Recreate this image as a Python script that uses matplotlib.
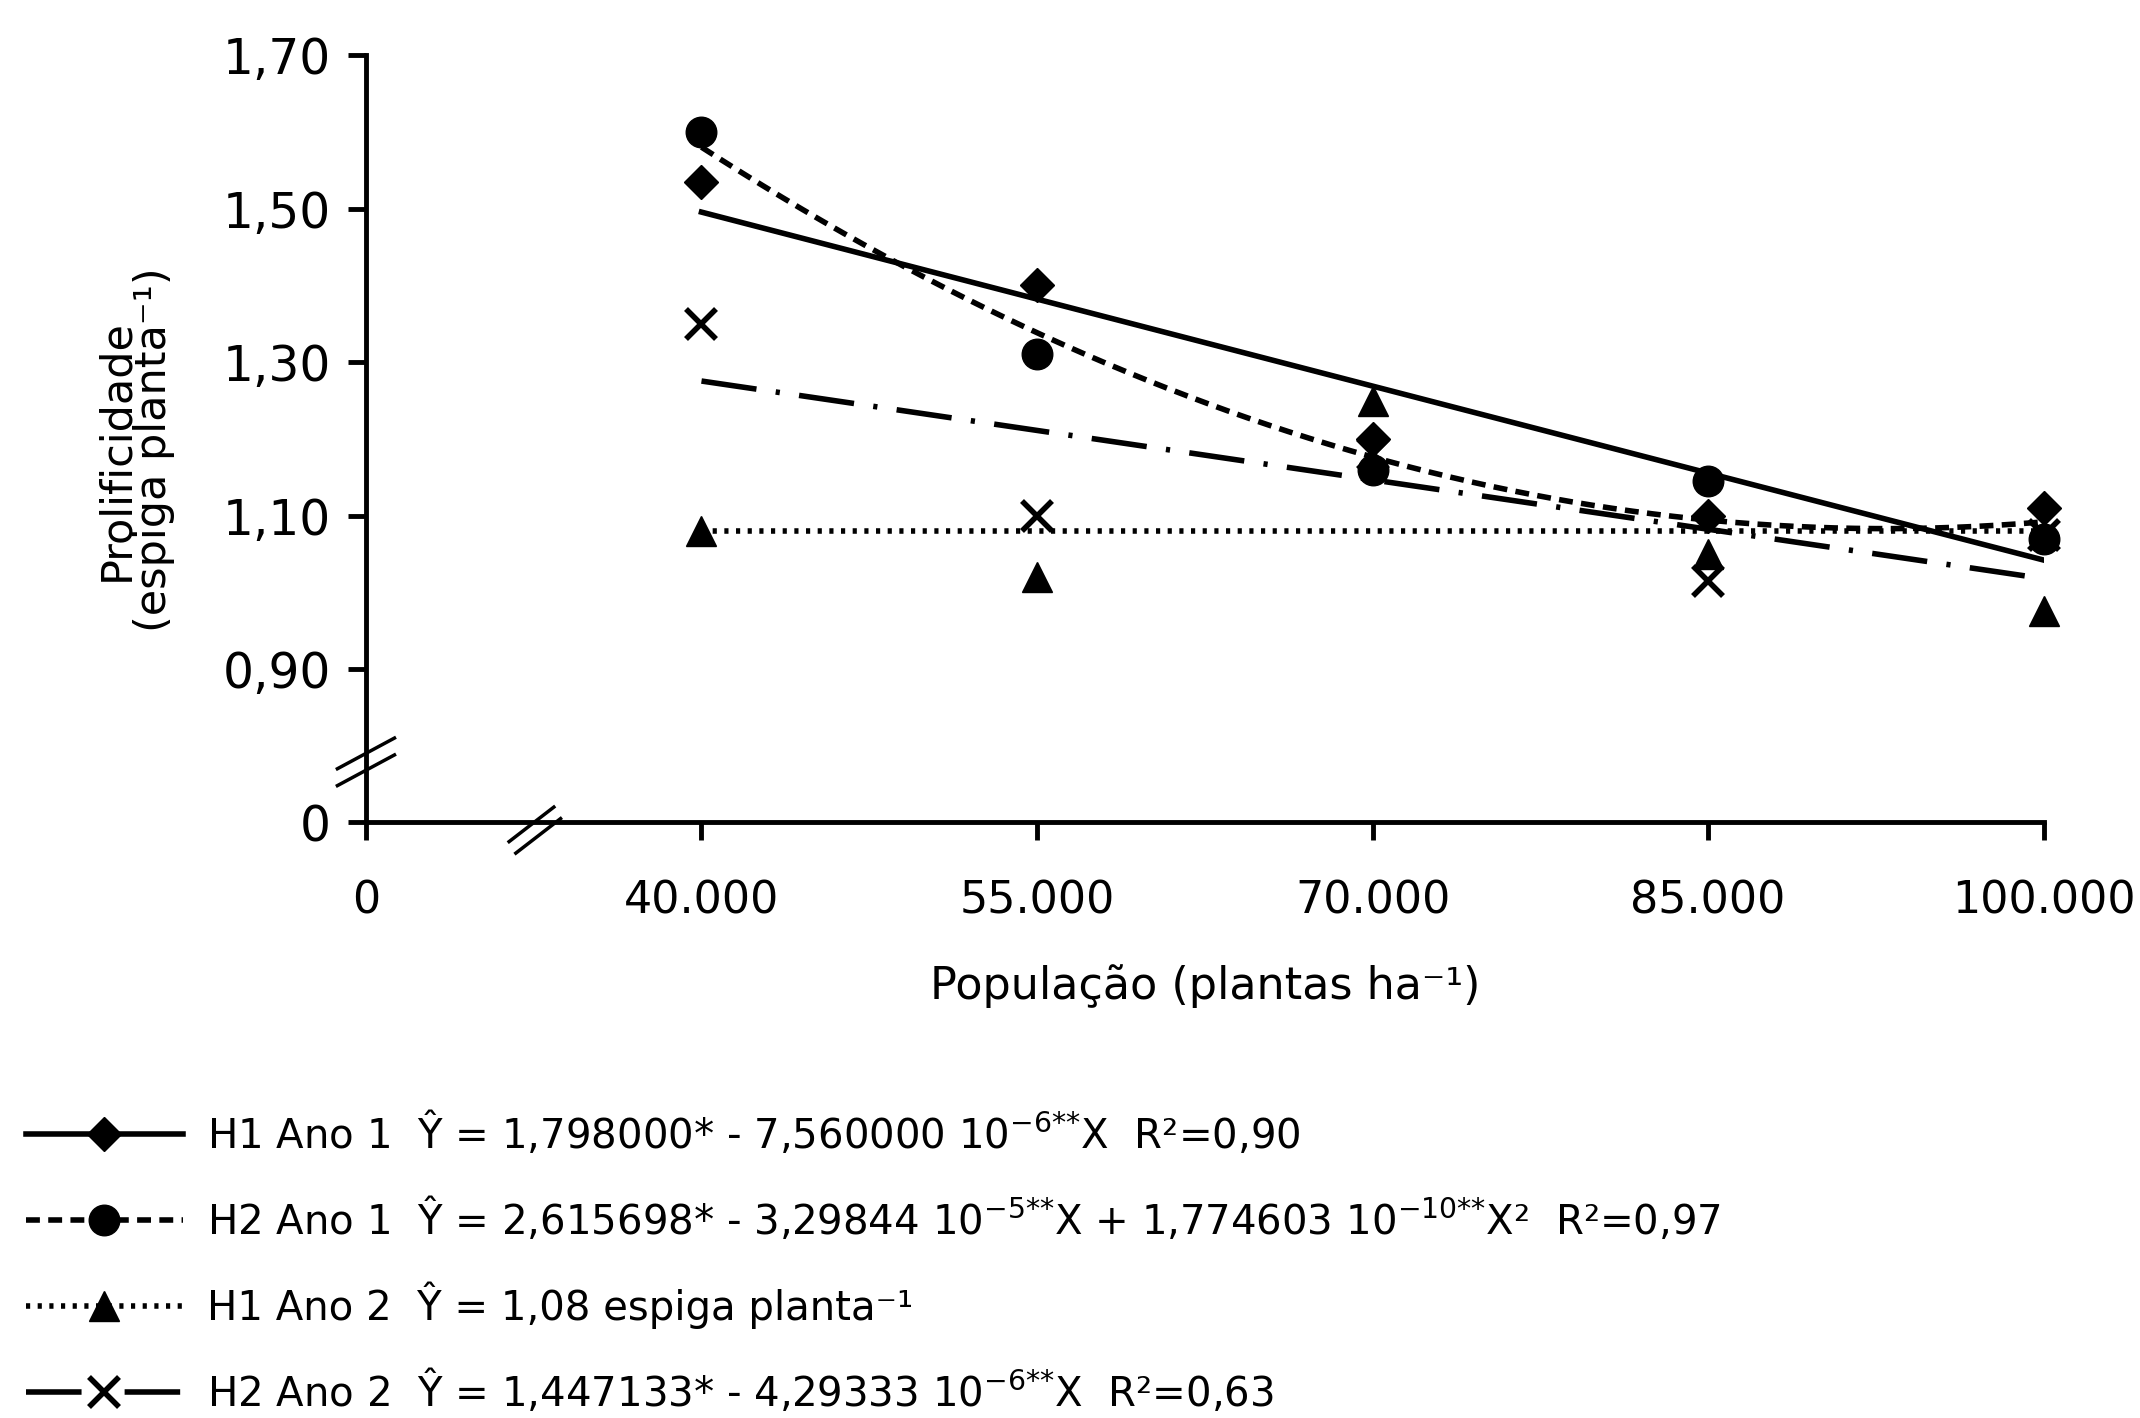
import numpy as np
import matplotlib
matplotlib.use("Agg")
import matplotlib.pyplot as plt
from matplotlib.lines import Line2D

# data
populacao = [40000, 55000, 70000, 85000, 100000]
h1_ano1 = [1.535, 1.40, 1.20, 1.10, 1.11]
h2_ano1 = [1.60, 1.31, 1.16, 1.145, 1.07]
h1_ano2 = [1.08, 1.02, 1.25, 1.05, 0.975]
h2_ano2 = [1.35, 1.10, 1.18, 1.015, 1.075]

# regression coefficients given in the legend (b0, b1, b2)
coef_h1_ano1 = [1.798000, -7.560000e-6]
coef_h2_ano1 = [2.615698, -3.29844e-5, 1.774603e-10]
media_h1_ano2 = 1.08
coef_h2_ano2 = [1.447133, -4.29333e-6]

xticks = [25000, 40000, 55000, 70000, 85000, 100000]
xticklabels = ["0", "40.000", "55.000", "70.000", "85.000", "100.000"]
yticks = [0.70, 0.90, 1.10, 1.30, 1.50, 1.70]
yticklabels = ["0", "0,90", "1,10", "1,30", "1,50", "1,70"]

labels = [
    "H1 Ano 1  Ŷ = 1,798000* - 7,560000 10$^{-6{*}{*}}$X  R²=0,90",
    "H2 Ano 1  Ŷ = 2,615698* - 3,29844 10$^{-5{*}{*}}$X + 1,774603 10$^{-10{*}{*}}$X²  R²=0,97",
    "H1 Ano 2  Ŷ = 1,08 espiga planta⁻¹",
    "H2 Ano 2  Ŷ = 1,447133* - 4,29333 10$^{-6{*}{*}}$X  R²=0,63",
]

plt.rcParams['font.family'] = ['DejaVu Sans']
plt.rcParams['mathtext.fontset'] = 'dejavusans'

fig = plt.figure(figsize=(21.4, 14.18), dpi=100)
ax = fig.add_axes([0.171, 0.420, 0.784, 0.541])

lw = 4
ms = 22
ls_h2_ano1 = (0, (2.5, 1.5))
ls_h1_ano2 = (0, (0.75, 1.35))
ls_h2_ano2 = (0, (10, 3.5, 0.75, 3.5))
xfit = np.linspace(40000, 100000, 200)

ax.plot(xfit, np.polyval(coef_h1_ano1[::-1], xfit), color="black", lw=lw, ls="-")
ax.plot(xfit, np.polyval(coef_h2_ano1[::-1], xfit), color="black", lw=lw, ls=ls_h2_ano1)
ax.plot(xfit, np.full_like(xfit, media_h1_ano2), color="black", lw=lw, ls=ls_h1_ano2)
ax.plot(xfit, np.polyval(coef_h2_ano2[::-1], xfit), color="black", lw=lw, ls=ls_h2_ano2)

ax.plot(populacao, h1_ano1, "D", color="black", ms=ms * 0.8, clip_on=False)
ax.plot(populacao, h2_ano1, "o", color="black", ms=ms, clip_on=False)
ax.plot(populacao, h1_ano2, "^", color="black", ms=ms, clip_on=False)
ax.plot(populacao, h2_ano2, "x", color="black", ms=ms, mew=4, clip_on=False)

ax.set_xlim(25000, 100000)
ax.set_ylim(0.70, 1.70)
ax.set_xticks(xticks)
ax.set_xticklabels(xticklabels)
ax.set_yticks(yticks)
ax.set_yticklabels(yticklabels)
ax.spines["top"].set_visible(False)
ax.spines["right"].set_visible(False)
for s in ["left", "bottom"]:
    ax.spines[s].set_linewidth(3.5)
ax.tick_params(axis="both", direction="out", length=13, width=3.5, labelsize=35)
ax.tick_params(axis="x", pad=28, labelsize=32)
ax.tick_params(axis="y", pad=12)

ax.set_xlabel("População (plantas ha⁻¹)", fontsize=32, labelpad=30)
ax.set_ylabel("Prolificidade\n(espiga planta⁻¹)", fontsize=31, linespacing=0.85)
ax.yaxis.set_label_coords(-0.114, 0.486)

# axis break marks
trans_x = ax.get_xaxis_transform()
xb = 32400
for off in [0, 1]:
    ax.plot([xb - 1000 + off * 300, xb + 1000 + off * 300], [-0.025 - off * 0.015, 0.020 - off * 0.015],
            color="black", lw=2.5, transform=trans_x, clip_on=False)
trans_y = ax.get_yaxis_transform()
yb = 0.80
for off in [0, 1]:
    ax.plot([-0.017, 0.017], [yb - 0.030 - off * 0.022, yb + 0.010 - off * 0.022],
            color="black", lw=2.5, transform=trans_y, clip_on=False)

handles = [
    Line2D([], [], color="black", lw=lw, ls="-", marker="D", ms=ms * 0.8),
    Line2D([], [], color="black", lw=lw, ls=ls_h2_ano1, marker="o", ms=ms),
    Line2D([], [], color="black", lw=lw, ls=ls_h1_ano2, marker="^", ms=ms),
    Line2D([], [], color="black", lw=lw, ls=ls_h2_ano2, marker="x", ms=ms, mew=4),
]
fig.legend(handles, labels, loc="upper left", bbox_to_anchor=(0.012, 0.218), frameon=False,
           fontsize=29, handlelength=3.9, handletextpad=0.6, labelspacing=0.95,
           borderaxespad=0, borderpad=0)

plt.savefig("out.png", dpi=100)
